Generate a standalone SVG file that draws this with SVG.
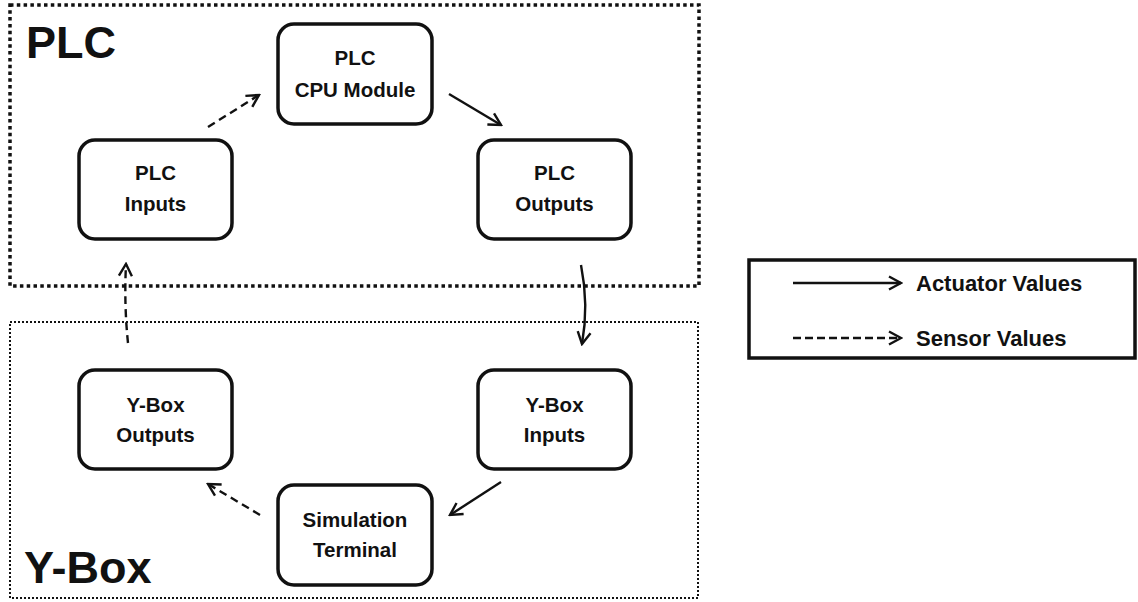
<svg xmlns="http://www.w3.org/2000/svg" width="1138" height="602" viewBox="0 0 1138 602">
<defs>
<style>
.bg{fill:#ffffff}
.node rect{fill:#ffffff;stroke:#111;stroke-width:3.5}
.node text{font-family:"Liberation Sans",Arial,sans-serif;font-weight:bold;font-size:20.5px;fill:#111;text-anchor:middle}
.region-plc{fill:none;stroke:#111;stroke-width:3.5;stroke-dasharray:3.5 3.3}
.region-ybox{fill:none;stroke:#111;stroke-width:2;stroke-dasharray:2 2}
.title{font-family:"Liberation Sans",Arial,sans-serif;font-weight:bold;font-size:45px;fill:#111}
.conn{fill:none;stroke:#111;stroke-width:2.4;marker-end:url(#arrow)}
.dash{stroke-dasharray:8 5}
.legend-text{font-family:"Liberation Sans",Arial,sans-serif;font-weight:bold;font-size:22px;fill:#111}
</style>
<marker id="arrow" markerUnits="userSpaceOnUse" viewBox="0 0 16 16" refX="14" refY="8" markerWidth="16" markerHeight="16" orient="auto">
<path d="M2,1.5 L14,8 L2,14.5" fill="none" stroke="#111" stroke-width="2.4" stroke-linejoin="miter"/>
</marker>
</defs>
<rect class="bg" x="0" y="0" width="1138" height="602"/>

<g id="region-plc">
<rect class="region-plc" x="10" y="5" width="689" height="281"/>
<text class="title" x="26" y="58">PLC</text>
</g>
<g id="region-ybox">
<rect class="region-ybox" x="10" y="322" width="688" height="276"/>
<text class="title" x="24" y="583">Y-Box</text>
</g>

<g id="node-cpu" class="node">
<rect x="278" y="24" width="154" height="100" rx="16"/>
<text x="355" y="65">PLC</text>
<text x="355" y="97">CPU Module</text>
</g>
<g id="node-plc-inputs" class="node">
<rect x="79" y="140" width="153" height="99" rx="16"/>
<text x="155.5" y="180">PLC</text>
<text x="155.5" y="211">Inputs</text>
</g>
<g id="node-plc-outputs" class="node">
<rect x="478" y="140" width="153" height="99" rx="16"/>
<text x="554.5" y="180">PLC</text>
<text x="554.5" y="211">Outputs</text>
</g>
<g id="node-ybox-inputs" class="node">
<rect x="478" y="370" width="153" height="99" rx="16"/>
<text x="554.5" y="412">Y-Box</text>
<text x="554.5" y="442">Inputs</text>
</g>
<g id="node-ybox-outputs" class="node">
<rect x="79" y="370" width="153" height="99" rx="16"/>
<text x="155.5" y="412">Y-Box</text>
<text x="155.5" y="442">Outputs</text>
</g>
<g id="node-sim" class="node">
<rect x="278" y="485" width="154" height="100" rx="16"/>
<text x="355" y="527">Simulation</text>
<text x="355" y="557">Terminal</text>
</g>

<g id="connectors">
<path class="conn dash" d="M208,127 L259,95"/>
<path class="conn" d="M449,94 L501,125"/>
<path class="conn" d="M581,265 Q589,305 582,344"/>
<path class="conn" d="M501,482 L450,515"/>
<path class="conn dash" d="M260,515 L208,484"/>
<path class="conn dash" d="M128,343 Q124,305 126,264"/>
</g>

<g id="legend">
<rect x="749" y="260" width="386" height="98" fill="#ffffff" stroke="#111" stroke-width="3.5"/>
<path class="conn" d="M793,283 L901,283"/>
<text class="legend-text" x="916" y="291">Actuator Values</text>
<path class="conn" d="M793,338 L901,338" style="stroke-dasharray:8 4"/>
<text class="legend-text" x="916" y="346">Sensor Values</text>
</g>
</svg>
